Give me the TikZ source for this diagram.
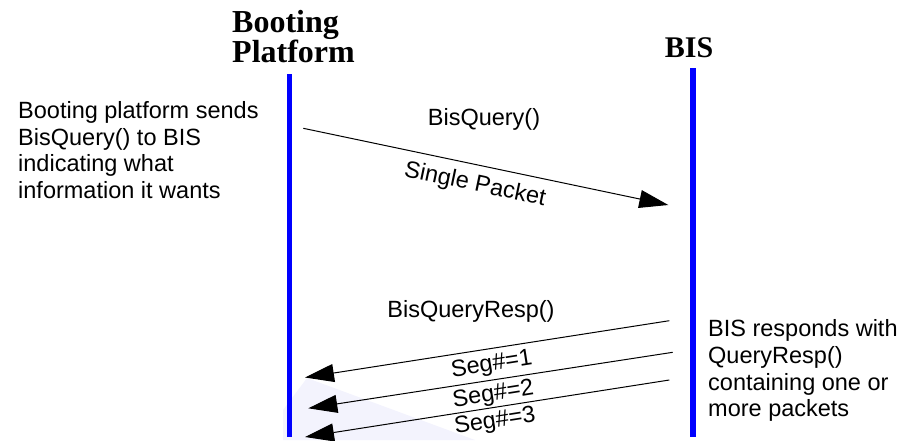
\documentclass[tikz,border=0pt]{standalone}
\usepackage{fontspec}
\setmainfont{Liberation Serif}
\setsansfont{Liberation Sans}
\usetikzlibrary{arrows.meta}
\definecolor{lifeblue}{RGB}{0,0,255}
\definecolor{shadecol}{RGB}{243,243,253}
\begin{document}
\begin{tikzpicture}[x=1pt,y=-1pt,
  lbl/.style={font=\sffamily\fontsize{23.5}{26.7}\selectfont, inner sep=0pt},
  head/.style={font=\rmfamily\bfseries\fontsize{32}{32}\selectfont, inner sep=0pt},
  lifeline/.style={draw=lifeblue, line width=5.5pt},
  msg/.style={draw=black, line width=1pt, -{Triangle[length=29pt,width=18pt]}}
]
\useasboundingbox (0,0) rectangle (912,440);
\fill[shadecol] (307,378) -- (475,440) -- (283,440) -- (283,410) -- cycle;

% headings
\node[head, anchor=base west] (bp1) at (232,32) {Booting};
\node[head, anchor=base west] (bp2) at (232,62) {Platform};
\node[head, font=\rmfamily\bfseries\fontsize{30}{30}\selectfont, anchor=base] (bis) at (689,57) {BIS};

% lifelines
\coordinate (bpTop) at (289.5,74);
\coordinate (bpBot) at (289.5,437);
\coordinate (bisTop) at (693,68);
\coordinate (bisBot) at (693,437);
\draw[lifeline] (bpTop) -- (bpBot);
\draw[lifeline] (bisTop) -- (bisBot);

% descriptions
\node[lbl, anchor=base west, align=left] (desc1) at (18,198.5)
  {Booting platform sends\\BisQuery() to BIS\\indicating what\\information it wants};
\node[lbl, anchor=base west, align=left] (desc2) at (708,416.7)
  {BIS responds with\\QueryResp()\\containing one or\\more packets};

% query message
\coordinate (qs) at (303.3,128.3);
\coordinate (qe) at (668.3,205);
\draw[msg] (qs) -- (qe);
\node[lbl, anchor=base] (qlbl) at (484,125) {BisQuery()};
\node[lbl, rotate=-11.9] (qsub) at (475,185) {Single Packet};

% response messages
\coordinate (r1s) at (669.3,320.7);
\coordinate (r1e) at (305,377.5);
\coordinate (r2s) at (672.7,352.3);
\coordinate (r2e) at (308.3,408.3);
\coordinate (r3s) at (669.3,380);
\coordinate (r3e) at (305,437);
\draw[msg] (r1s) -- (r1e);
\draw[msg] (r2s) -- (r2e);
\draw[msg] (r3s) -- (r3e);
\node[lbl, anchor=base] (rlbl) at (471,317) {BisQueryResp()};
\node[lbl, rotate=9] (seg1) at (491.7,365) {Seg\#=1};
\node[lbl, rotate=9] (seg2) at (493.3,395) {Seg\#=2};
\node[lbl, rotate=9] (seg3) at (495,421.7) {Seg\#=3};
\end{tikzpicture}
\end{document}
